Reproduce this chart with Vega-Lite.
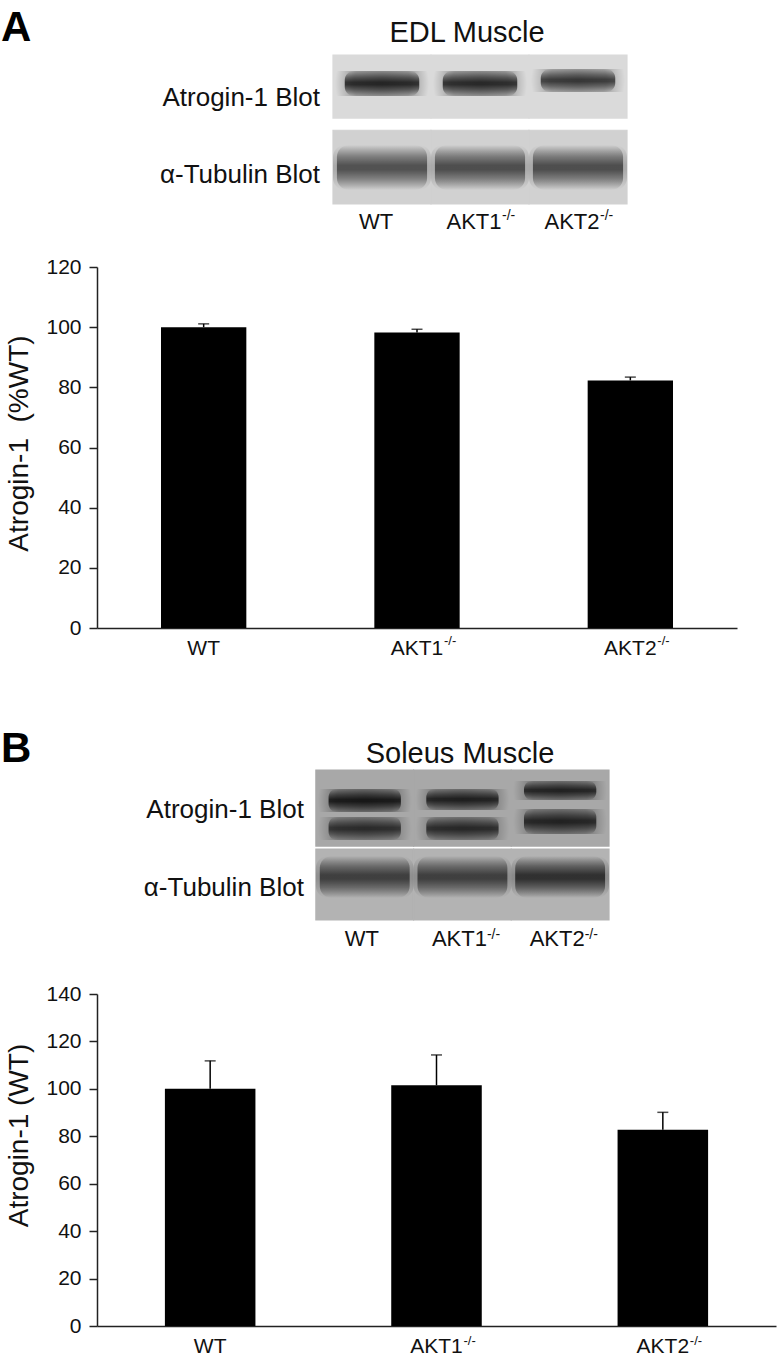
{
  "$schema": "https://vega.github.io/schema/vega-lite/v6.json",
  "background": "white",
  "padding": {"left": 0, "top": 7, "right": 3, "bottom": 2},
  "config": {
    "view": {"stroke": null},
    "font": "Liberation Sans",
    "axis": {"labelFont": "Liberation Sans", "titleFont": "Liberation Sans", "labelColor": "#111", "titleColor": "#111", "titleFontWeight": "normal"},
    "title": {"font": "Liberation Sans", "fontWeight": "normal", "color": "#111"}
  },
  "datasets": {
    "edl_bars": [
      {"genotype": "WT", "sup": "", "mean": 100, "upper": 101.1},
      {"genotype": "AKT1", "sup": "-/-", "mean": 98.2, "upper": 99.3},
      {"genotype": "AKT2", "sup": "-/-", "mean": 82.3, "upper": 83.4}
    ],
    "sol_bars": [
      {"genotype": "WT", "sup": "", "mean": 100, "upper": 111.8},
      {"genotype": "AKT1", "sup": "-/-", "mean": 101.5, "upper": 114.3},
      {"genotype": "AKT2", "sup": "-/-", "mean": 82.8, "upper": 90.1}
    ],
    "edl_blot": [
      {"strip": "Atrogin-1", "kind": "membrane", "genotype": "WT", "top": 0, "bottom": 42.3, "intensity": 0.13},
      {"strip": "Atrogin-1", "kind": "membrane", "genotype": "AKT1", "top": 0, "bottom": 42.3, "intensity": 0.13},
      {"strip": "Atrogin-1", "kind": "membrane", "genotype": "AKT2", "top": 0, "bottom": 42.3, "intensity": 0.13},
      {"strip": "Tubulin", "kind": "membrane", "genotype": "WT", "top": 50.5, "bottom": 100, "intensity": 0.16},
      {"strip": "Tubulin", "kind": "membrane", "genotype": "AKT1", "top": 50.5, "bottom": 100, "intensity": 0.16},
      {"strip": "Tubulin", "kind": "membrane", "genotype": "AKT2", "top": 50.5, "bottom": 100, "intensity": 0.16},
      {"strip": "Atrogin-1", "kind": "band", "genotype": "WT", "top": 10.7, "bottom": 27.5, "intensity": 0.72},
      {"strip": "Atrogin-1", "kind": "band", "genotype": "AKT1", "top": 10.7, "bottom": 27.5, "intensity": 0.7},
      {"strip": "Atrogin-1", "kind": "band", "genotype": "AKT2", "top": 9.4, "bottom": 24.8, "intensity": 0.62},
      {"strip": "Tubulin", "kind": "band", "genotype": "WT", "top": 60.4, "bottom": 90.6, "intensity": 0.52},
      {"strip": "Tubulin", "kind": "band", "genotype": "AKT1", "top": 60.4, "bottom": 90.6, "intensity": 0.54},
      {"strip": "Tubulin", "kind": "band", "genotype": "AKT2", "top": 60.4, "bottom": 90.6, "intensity": 0.54}
    ],
    "sol_blot": [
      {"strip": "Atrogin-1", "kind": "membrane", "genotype": "WT", "top": 0, "bottom": 50.7, "intensity": 0.31},
      {"strip": "Atrogin-1", "kind": "membrane", "genotype": "AKT1", "top": 0, "bottom": 50.7, "intensity": 0.31},
      {"strip": "Atrogin-1", "kind": "membrane", "genotype": "AKT2", "top": 0, "bottom": 50.7, "intensity": 0.31},
      {"strip": "Tubulin", "kind": "membrane", "genotype": "WT", "top": 52.7, "bottom": 100, "intensity": 0.27},
      {"strip": "Tubulin", "kind": "membrane", "genotype": "AKT1", "top": 52.7, "bottom": 100, "intensity": 0.27},
      {"strip": "Tubulin", "kind": "membrane", "genotype": "AKT2", "top": 52.7, "bottom": 100, "intensity": 0.27},
      {"strip": "Atrogin-1", "kind": "band", "genotype": "WT", "top": 12.7, "bottom": 28, "intensity": 0.76},
      {"strip": "Atrogin-1", "kind": "band", "genotype": "WT", "top": 31.3, "bottom": 46.7, "intensity": 0.62},
      {"strip": "Atrogin-1", "kind": "band", "genotype": "AKT1", "top": 12.7, "bottom": 26.7, "intensity": 0.7},
      {"strip": "Atrogin-1", "kind": "band", "genotype": "AKT1", "top": 31.3, "bottom": 46.7, "intensity": 0.64},
      {"strip": "Atrogin-1", "kind": "band", "genotype": "AKT2", "top": 7.3, "bottom": 20, "intensity": 0.68},
      {"strip": "Atrogin-1", "kind": "band", "genotype": "AKT2", "top": 26, "bottom": 42.7, "intensity": 0.68},
      {"strip": "Tubulin", "kind": "band", "genotype": "WT", "top": 57.3, "bottom": 85.3, "intensity": 0.56},
      {"strip": "Tubulin", "kind": "band", "genotype": "AKT1", "top": 57.3, "bottom": 85.3, "intensity": 0.56},
      {"strip": "Tubulin", "kind": "band", "genotype": "AKT2", "top": 57.3, "bottom": 85.3, "intensity": 0.65}
    ],
    "edl_names": [
      {"name": "Atrogin-1 Blot", "ypos": 29},
      {"name": "α-Tubulin Blot", "ypos": 80.5}
    ],
    "sol_names": [
      {"name": "Atrogin-1 Blot", "ypos": 26.7},
      {"name": "α-Tubulin Blot", "ypos": 78.7}
    ]
  },
  "spacing": 70,
  "resolve": {"scale": {"x": "independent", "y": "independent"}},
  "vconcat": [
    {
      "title": {"text": "A", "anchor": "start", "fontSize": 42, "fontWeight": "bold", "baseline": "alphabetic", "offset": -64, "dx": -5, "color": "#000"},
      "bounds": "flush",
      "spacing": 63,
      "resolve": {"scale": {"x": "independent", "y": "independent"}},
      "vconcat": [
        {
          "width": 530,
          "height": 149,
          "title": {"text": "EDL Muscle", "fontSize": 29, "anchor": "middle", "dx": 105, "offset": -17, "baseline": "alphabetic"},
          "layer": [
            {
              "data": {"name": "edl_blot"},
              "transform": [{"filter": "datum.kind === 'membrane'"}],
              "mark": {"type": "rect", "strokeWidth": 1.2},
              "encoding": {
                "x": {"field": "genotype", "type": "nominal", "scale": {"type": "band", "domain": [" ", "WT", "AKT1", "AKT2"], "paddingInner": 0, "paddingOuter": 0.704, "align": 1}, "axis": {"title": null, "orient": "bottom", "domain": false, "ticks": false, "tickSize": 0, "labelFontSize": 22, "labelPadding": 7, "labelOffset": -6, "labelAngle": 0}},
                "y": {"field": "top", "type": "quantitative", "scale": {"domain": [0, 100], "reverse": true, "nice": false, "zero": false}, "axis": null},
                "y2": {"field": "bottom"},
                "fill": {"field": "intensity", "type": "quantitative", "scale": {"domain": [0, 1], "range": ["#ffffff", "#000000"]}, "legend": null},
                "stroke": {"field": "intensity", "type": "quantitative", "scale": {"domain": [0, 1], "range": ["#ffffff", "#000000"]}, "legend": null}
              }
            },
            {
              "data": {"name": "edl_blot"},
              "transform": [{"filter": "datum.kind === 'band' && datum.strip === 'Atrogin-1'"}],
              "mark": {"type": "rect", "width": {"band": 0.96}, "fillOpacity": 0.55, "fill": {"gradient": "radial", "x1": 0.5, "y1": 0.5, "r1": 0, "x2": 0.5, "y2": 0.5, "r2": 0.5, "stops": [{"offset": 0, "color": "rgba(0,0,0,1)"}, {"offset": 0.6, "color": "rgba(0,0,0,0.75)"}, {"offset": 1, "color": "rgba(0,0,0,0)"}]}},
              "encoding": {
                "x": {"field": "genotype", "type": "nominal"},
                "y": {"field": "top", "type": "quantitative"},
                "y2": {"field": "bottom"},
                "opacity": {"field": "intensity", "type": "quantitative", "scale": {"domain": [0, 1], "range": [0, 1]}, "legend": null}
              }
            },
            {
              "data": {"name": "edl_blot"},
              "transform": [{"filter": "datum.kind === 'band' && datum.strip === 'Atrogin-1'"}],
              "mark": {"type": "rect", "width": {"band": 0.76}, "cornerRadius": 9, "fill": {"gradient": "linear", "x1": 0, "y1": 0, "x2": 0, "y2": 1, "stops": [{"offset": 0, "color": "rgba(0,0,0,0)"}, {"offset": 0.25, "color": "rgba(0,0,0,0.6)"}, {"offset": 0.45, "color": "rgba(0,0,0,1)"}, {"offset": 0.55, "color": "rgba(0,0,0,1)"}, {"offset": 0.75, "color": "rgba(0,0,0,0.6)"}, {"offset": 1, "color": "rgba(0,0,0,0)"}]}},
              "encoding": {
                "x": {"field": "genotype", "type": "nominal"},
                "y": {"field": "top", "type": "quantitative"},
                "y2": {"field": "bottom"},
                "opacity": {"field": "intensity", "type": "quantitative", "legend": null}
              }
            },
            {
              "data": {"name": "edl_blot"},
              "transform": [{"filter": "datum.kind === 'band' && datum.strip === 'Tubulin'"}],
              "mark": {"type": "rect", "width": {"band": 1}, "cornerRadius": 12, "fillOpacity": 0.35, "fill": {"gradient": "linear", "x1": 0, "y1": 0, "x2": 0, "y2": 1, "stops": [{"offset": 0, "color": "rgba(0,0,0,0)"}, {"offset": 0.25, "color": "rgba(0,0,0,0.6)"}, {"offset": 0.45, "color": "rgba(0,0,0,1)"}, {"offset": 0.55, "color": "rgba(0,0,0,1)"}, {"offset": 0.75, "color": "rgba(0,0,0,0.6)"}, {"offset": 1, "color": "rgba(0,0,0,0)"}]}},
              "encoding": {
                "x": {"field": "genotype", "type": "nominal"},
                "y": {"field": "top", "type": "quantitative"},
                "y2": {"field": "bottom"},
                "opacity": {"field": "intensity", "type": "quantitative", "legend": null}
              }
            },
            {
              "data": {"name": "edl_blot"},
              "transform": [{"filter": "datum.kind === 'band' && datum.strip === 'Tubulin'"}],
              "mark": {"type": "rect", "width": {"band": 0.92}, "cornerRadius": 12, "fill": {"gradient": "linear", "x1": 0, "y1": 0, "x2": 0, "y2": 1, "stops": [{"offset": 0, "color": "rgba(0,0,0,0)"}, {"offset": 0.25, "color": "rgba(0,0,0,0.6)"}, {"offset": 0.45, "color": "rgba(0,0,0,1)"}, {"offset": 0.55, "color": "rgba(0,0,0,1)"}, {"offset": 0.75, "color": "rgba(0,0,0,0.6)"}, {"offset": 1, "color": "rgba(0,0,0,0)"}]}},
              "encoding": {
                "x": {"field": "genotype", "type": "nominal"},
                "y": {"field": "top", "type": "quantitative"},
                "y2": {"field": "bottom"},
                "opacity": {"field": "intensity", "type": "quantitative", "legend": null}
              }
            },
            {
              "data": {"name": "edl_names"},
              "mark": {"type": "text", "fontSize": 26, "align": "right", "baseline": "middle", "dx": -13, "color": "#111"},
              "encoding": {
                "x": {"datum": "WT", "bandPosition": 0},
                "y": {"field": "ypos", "type": "quantitative"},
                "text": {"field": "name"}
              }
            },
            {
              "data": {"name": "edl_bars"},
              "transform": [{"filter": "datum.sup !== ''"}],
              "mark": {"type": "text", "fontSize": 14, "align": "left", "baseline": "alphabetic", "dx": 22, "color": "#111"},
              "encoding": {
                "x": {"field": "genotype", "type": "nominal"},
                "y": {"datum": 110.7},
                "text": {"field": "sup"}
              }
            }
          ]
        },
        {
          "width": 640,
          "height": 361,
          "data": {"name": "edl_bars"},
          "encoding": {
            "x": {"field": "genotype", "type": "nominal", "scale": {"type": "band", "domain": ["WT", "AKT1", "AKT2"], "paddingInner": 0.6, "paddingOuter": 0.3}, "axis": {"title": null, "labelAngle": 0, "ticks": false, "tickSize": 0, "labelPadding": 9, "labelFontSize": 21, "domainColor": "#222", "domainWidth": 1.5}}
          },
          "layer": [
            {
              "mark": {"type": "bar", "color": "#000"},
              "encoding": {
                "y": {"field": "mean", "type": "quantitative", "title": "Atrogin-1\u00a0 (%WT)", "scale": {"domain": [0, 120], "nice": false}, "axis": {"values": [0, 20, 40, 60, 80, 100, 120], "grid": false, "tickSize": 8, "tickWidth": 1.5, "tickColor": "#222", "domainColor": "#222", "domainWidth": 1.5, "labelFontSize": 21, "labelPadding": 8, "titleFontSize": 28, "titlePadding": 12, "titleY": 176}}
              }
            },
            {
              "mark": {"type": "rule", "color": "#000", "strokeWidth": 1.5},
              "encoding": {
                "y": {"field": "mean", "type": "quantitative", "title": "Atrogin-1\u00a0 (%WT)"},
                "y2": {"field": "upper"}
              }
            },
            {
              "mark": {"type": "tick", "color": "#000", "thickness": 1.5, "size": 11},
              "encoding": {
                "y": {"field": "upper", "type": "quantitative", "title": "Atrogin-1\u00a0 (%WT)"}
              }
            },
            {
              "transform": [{"filter": "datum.sup !== ''"}],
              "mark": {"type": "text", "fontSize": 13, "align": "left", "baseline": "alphabetic", "dx": 27, "color": "#111"},
              "encoding": {
                "y": {"datum": -5.75, "title": "Atrogin-1\u00a0 (%WT)"},
                "text": {"field": "sup"}
              }
            }
          ]
        }
      ]
    },
    {
      "title": {"text": "B", "anchor": "start", "fontSize": 42, "fontWeight": "bold", "baseline": "alphabetic", "offset": -64, "dx": -5, "color": "#000"},
      "bounds": "flush",
      "spacing": 74,
      "resolve": {"scale": {"x": "independent", "y": "independent"}},
      "vconcat": [
        {
          "width": 512,
          "height": 150,
          "title": {"text": "Soleus Muscle", "fontSize": 29, "anchor": "middle", "dx": 107, "offset": -23, "baseline": "alphabetic"},
          "layer": [
            {
              "data": {"name": "sol_blot"},
              "transform": [{"filter": "datum.kind === 'membrane'"}],
              "mark": {"type": "rect", "strokeWidth": 1.2},
              "encoding": {
                "x": {"field": "genotype", "type": "nominal", "scale": {"type": "band", "domain": [" ", "WT", "AKT1", "AKT2"], "paddingInner": 0, "paddingOuter": 0.62, "align": 1}, "axis": {"title": null, "orient": "bottom", "domain": false, "ticks": false, "tickSize": 0, "labelFontSize": 22, "labelPadding": 8.6, "labelOffset": -3, "labelAngle": 0}},
                "y": {"field": "top", "type": "quantitative", "scale": {"domain": [0, 100], "reverse": true, "nice": false, "zero": false}, "axis": null},
                "y2": {"field": "bottom"},
                "fill": {"field": "intensity", "type": "quantitative", "scale": {"domain": [0, 1], "range": ["#ffffff", "#000000"]}, "legend": null},
                "stroke": {"field": "intensity", "type": "quantitative", "scale": {"domain": [0, 1], "range": ["#ffffff", "#000000"]}, "legend": null}
              }
            },
            {
              "data": {"name": "sol_blot"},
              "transform": [{"filter": "datum.kind === 'band' && datum.strip === 'Atrogin-1'"}],
              "mark": {"type": "rect", "width": {"band": 0.96}, "fillOpacity": 0.55, "fill": {"gradient": "radial", "x1": 0.5, "y1": 0.5, "r1": 0, "x2": 0.5, "y2": 0.5, "r2": 0.5, "stops": [{"offset": 0, "color": "rgba(0,0,0,1)"}, {"offset": 0.6, "color": "rgba(0,0,0,0.75)"}, {"offset": 1, "color": "rgba(0,0,0,0)"}]}},
              "encoding": {
                "x": {"field": "genotype", "type": "nominal"},
                "y": {"field": "top", "type": "quantitative"},
                "y2": {"field": "bottom"},
                "opacity": {"field": "intensity", "type": "quantitative", "scale": {"domain": [0, 1], "range": [0, 1]}, "legend": null}
              }
            },
            {
              "data": {"name": "sol_blot"},
              "transform": [{"filter": "datum.kind === 'band' && datum.strip === 'Atrogin-1'"}],
              "mark": {"type": "rect", "width": {"band": 0.74}, "cornerRadius": 8, "fill": {"gradient": "linear", "x1": 0, "y1": 0, "x2": 0, "y2": 1, "stops": [{"offset": 0, "color": "rgba(0,0,0,0)"}, {"offset": 0.25, "color": "rgba(0,0,0,0.6)"}, {"offset": 0.45, "color": "rgba(0,0,0,1)"}, {"offset": 0.55, "color": "rgba(0,0,0,1)"}, {"offset": 0.75, "color": "rgba(0,0,0,0.6)"}, {"offset": 1, "color": "rgba(0,0,0,0)"}]}},
              "encoding": {
                "x": {"field": "genotype", "type": "nominal"},
                "y": {"field": "top", "type": "quantitative"},
                "y2": {"field": "bottom"},
                "opacity": {"field": "intensity", "type": "quantitative", "legend": null}
              }
            },
            {
              "data": {"name": "sol_blot"},
              "transform": [{"filter": "datum.kind === 'band' && datum.strip === 'Tubulin'"}],
              "mark": {"type": "rect", "width": {"band": 1}, "cornerRadius": 12, "fillOpacity": 0.35, "fill": {"gradient": "linear", "x1": 0, "y1": 0, "x2": 0, "y2": 1, "stops": [{"offset": 0, "color": "rgba(0,0,0,0)"}, {"offset": 0.25, "color": "rgba(0,0,0,0.6)"}, {"offset": 0.45, "color": "rgba(0,0,0,1)"}, {"offset": 0.55, "color": "rgba(0,0,0,1)"}, {"offset": 0.75, "color": "rgba(0,0,0,0.6)"}, {"offset": 1, "color": "rgba(0,0,0,0)"}]}},
              "encoding": {
                "x": {"field": "genotype", "type": "nominal"},
                "y": {"field": "top", "type": "quantitative"},
                "y2": {"field": "bottom"},
                "opacity": {"field": "intensity", "type": "quantitative", "legend": null}
              }
            },
            {
              "data": {"name": "sol_blot"},
              "transform": [{"filter": "datum.kind === 'band' && datum.strip === 'Tubulin'"}],
              "mark": {"type": "rect", "width": {"band": 0.92}, "cornerRadius": 12, "fill": {"gradient": "linear", "x1": 0, "y1": 0, "x2": 0, "y2": 1, "stops": [{"offset": 0, "color": "rgba(0,0,0,0)"}, {"offset": 0.25, "color": "rgba(0,0,0,0.6)"}, {"offset": 0.45, "color": "rgba(0,0,0,1)"}, {"offset": 0.55, "color": "rgba(0,0,0,1)"}, {"offset": 0.75, "color": "rgba(0,0,0,0.6)"}, {"offset": 1, "color": "rgba(0,0,0,0)"}]}},
              "encoding": {
                "x": {"field": "genotype", "type": "nominal"},
                "y": {"field": "top", "type": "quantitative"},
                "y2": {"field": "bottom"},
                "opacity": {"field": "intensity", "type": "quantitative", "legend": null}
              }
            },
            {
              "data": {"name": "sol_names"},
              "mark": {"type": "text", "fontSize": 26, "align": "right", "baseline": "middle", "dx": -12, "color": "#111"},
              "encoding": {
                "x": {"datum": "WT", "bandPosition": 0},
                "y": {"field": "ypos", "type": "quantitative"},
                "text": {"field": "name"}
              }
            },
            {
              "data": {"name": "sol_bars"},
              "transform": [{"filter": "datum.sup !== ''"}],
              "mark": {"type": "text", "fontSize": 14, "align": "left", "baseline": "alphabetic", "dx": 24.5, "color": "#111"},
              "encoding": {
                "x": {"field": "genotype", "type": "nominal"},
                "y": {"datum": 112.7},
                "text": {"field": "sup"}
              }
            }
          ]
        },
        {
          "width": 679,
          "height": 332,
          "data": {"name": "sol_bars"},
          "encoding": {
            "x": {"field": "genotype", "type": "nominal", "scale": {"type": "band", "domain": ["WT", "AKT1", "AKT2"], "paddingInner": 0.6, "paddingOuter": 0.3}, "axis": {"title": null, "labelAngle": 0, "ticks": false, "tickSize": 0, "labelPadding": 9, "labelFontSize": 21, "domainColor": "#222", "domainWidth": 1.5}}
          },
          "layer": [
            {
              "mark": {"type": "bar", "color": "#000"},
              "encoding": {
                "y": {"field": "mean", "type": "quantitative", "title": "Atrogin-1 (WT)", "scale": {"domain": [0, 140], "nice": false}, "axis": {"values": [0, 20, 40, 60, 80, 100, 120, 140], "grid": false, "tickSize": 8, "tickWidth": 1.5, "tickColor": "#222", "domainColor": "#222", "domainWidth": 1.5, "labelFontSize": 21, "labelPadding": 8, "titleFontSize": 28, "titlePadding": 12, "titleY": 141}}
              }
            },
            {
              "mark": {"type": "rule", "color": "#000", "strokeWidth": 1.5},
              "encoding": {
                "y": {"field": "mean", "type": "quantitative", "title": "Atrogin-1 (WT)"},
                "y2": {"field": "upper"}
              }
            },
            {
              "mark": {"type": "tick", "color": "#000", "thickness": 1.5, "size": 11},
              "encoding": {
                "y": {"field": "upper", "type": "quantitative", "title": "Atrogin-1 (WT)"}
              }
            },
            {
              "transform": [{"filter": "datum.sup !== ''"}],
              "mark": {"type": "text", "fontSize": 13, "align": "left", "baseline": "alphabetic", "dx": 27, "color": "#111"},
              "encoding": {
                "y": {"datum": -7.9, "title": "Atrogin-1 (WT)"},
                "text": {"field": "sup"}
              }
            }
          ]
        }
      ]
    }
  ]
}
